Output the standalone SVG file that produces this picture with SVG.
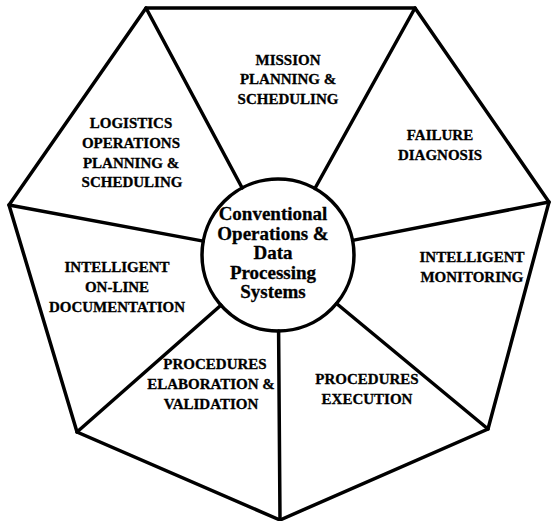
<svg xmlns="http://www.w3.org/2000/svg" width="552" height="521" viewBox="0 0 552 521">
<style>
.ln{stroke:#000;stroke-width:3.5;fill:none;stroke-linejoin:miter;stroke-linecap:round}
.t{font-family:"Liberation Serif","Times New Roman",serif;font-weight:bold;font-size:15px;text-anchor:middle;fill:#000;stroke:#000;stroke-width:0.3}
.c{font-family:"Liberation Serif","Times New Roman",serif;font-weight:bold;font-size:19px;text-anchor:middle;fill:#000;stroke:#000;stroke-width:0.3}
</style>
<rect width="552" height="521" fill="#fff"/>
<g id="connectors">
<polygon class="ln" points="146,8 415,8 549,202 488,429 280,520 77,432 9,205"/>
<line class="ln" x1="146" y1="8" x2="242.2" y2="188"/>
<line class="ln" x1="415" y1="8" x2="314.9" y2="188.5"/>
<line class="ln" x1="549" y1="202" x2="352.6" y2="240.4"/>
<line class="ln" x1="488" y1="429" x2="336.5" y2="303.5"/>
<line class="ln" x1="280" y1="520" x2="278.6" y2="331"/>
<line class="ln" x1="77" y1="432" x2="220.9" y2="305.2"/>
<line class="ln" x1="9" y1="205" x2="203.3" y2="241.1"/>
</g>
<g id="center">
<circle class="ln" cx="278" cy="255" r="76"/>
<text class="c" x="273" y="220">Conventional</text>
<text class="c" x="273" y="240">Operations &amp;</text>
<text class="c" x="273" y="259">Data</text>
<text class="c" x="273" y="279">Processing</text>
<text class="c" x="273" y="298">Systems</text>
</g>
<g id="mission">
<text class="t" x="288" y="65">MISSION</text>
<text class="t" x="288" y="84">PLANNING &amp;</text>
<text class="t" x="288" y="104">SCHEDULING</text>
</g>
<g id="failure">
<text class="t" x="440" y="140">FAILURE</text>
<text class="t" x="440" y="160">DIAGNOSIS</text>
</g>
<g id="monitoring">
<text class="t" x="472" y="262">INTELLIGENT</text>
<text class="t" x="472" y="282">MONITORING</text>
</g>
<g id="execution">
<text class="t" x="367" y="384">PROCEDURES</text>
<text class="t" x="367" y="404">EXECUTION</text>
</g>
<g id="elaboration">
<text class="t" x="215" y="369">PROCEDURES</text>
<text class="t" x="211" y="389">ELABORATION &amp;</text>
<text class="t" x="211" y="409">VALIDATION</text>
</g>
<g id="documentation">
<text class="t" x="117" y="272">INTELLIGENT</text>
<text class="t" x="117" y="292">ON-LINE</text>
<text class="t" x="117" y="312">DOCUMENTATION</text>
</g>
<g id="logistics">
<text class="t" x="131" y="128">LOGISTICS</text>
<text class="t" x="131" y="148">OPERATIONS</text>
<text class="t" x="131" y="168">PLANNING &amp;</text>
<text class="t" x="132" y="187">SCHEDULING</text>
</g>
</svg>
